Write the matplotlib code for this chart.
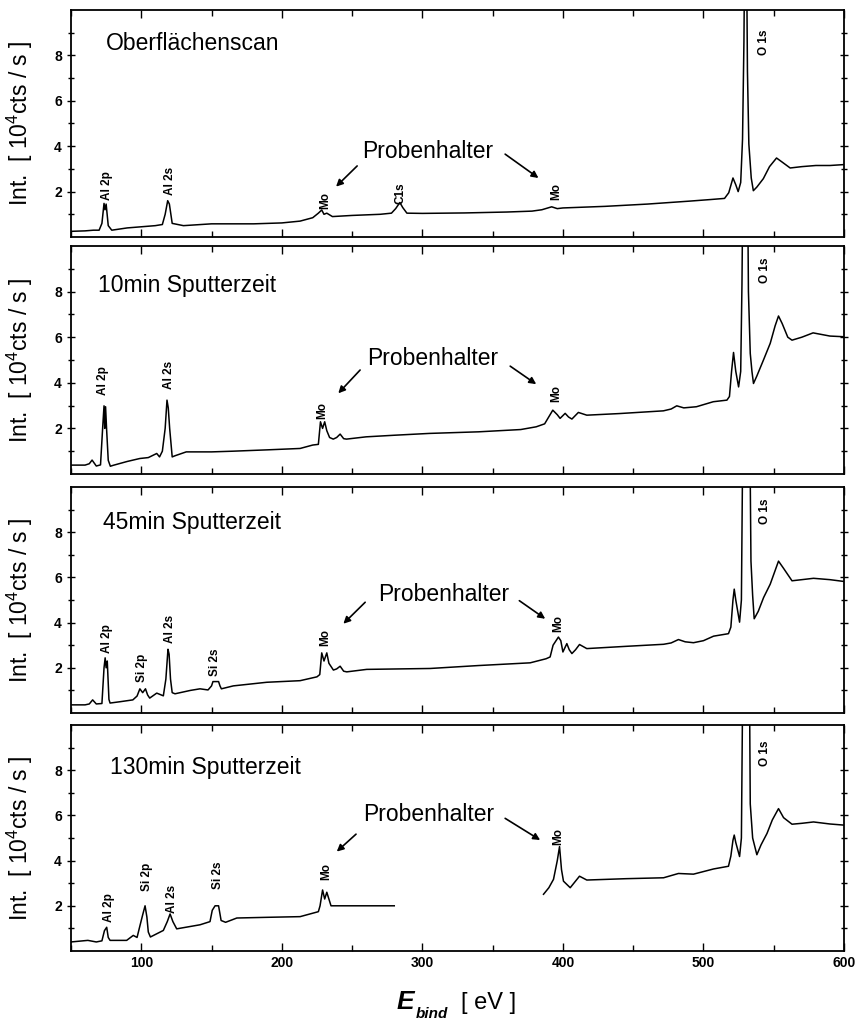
import numpy as np
import matplotlib
matplotlib.use('Agg')
from matplotlib import pyplot as plt
from matplotlib.ticker import MultipleLocator

plt.rcParams['font.family'] = ['Liberation Sans', 'DejaVu Sans']
plt.rcParams['mathtext.fontset'] = 'custom'
plt.rcParams['mathtext.rm'] = 'Liberation Sans'
plt.rcParams['mathtext.it'] = 'Liberation Sans:italic'
plt.rcParams['mathtext.bf'] = 'Liberation Sans:bold'

# XPS Übersichtsspektren, Bindungsenergie in eV, Intensität in 10^4 cts/s
titles = ['Oberflächenscan', '10min Sputterzeit', '45min Sputterzeit', '130min Sputterzeit']

e_surface = [50, 60, 66, 70, 72, 73.5, 74.2, 75, 76.5, 79,
             90, 100, 110, 115, 117, 118.8, 120, 122, 130, 150,
             180, 200, 213, 222, 226, 228.4, 230, 232, 236, 250,
             270, 278, 281, 284, 286, 289, 300, 330, 360, 378,
             385, 392, 396, 400, 430, 460, 490, 505, 515, 518,
             521, 523, 524.7, 526.5, 527.8, 528.8, 529.5, 530.5, 531.3, 532.3,
             534, 535.5, 538, 542.6, 547, 552, 556, 561.7, 570, 580,
             590, 600]
i_surface = [0.25, 0.27, 0.3, 0.3, 0.6, 1.48, 1.2, 1.45, 0.5, 0.3,
             0.4, 0.45, 0.5, 0.55, 1.0, 1.6, 1.45, 0.6, 0.5, 0.58,
             0.58, 0.62, 0.7, 0.85, 1.05, 1.19, 1.0, 1.05, 0.9, 0.95,
             1.0, 1.05, 1.25, 1.52, 1.3, 1.05, 1.04, 1.06, 1.1, 1.14,
             1.2, 1.33, 1.25, 1.28, 1.35, 1.45, 1.58, 1.65, 1.7, 1.95,
             2.6, 2.3, 2.0, 2.4, 4.3, 8.6, 14, 14, 7.3, 4.1,
             2.6, 2.04, 2.2, 2.57, 3.1, 3.48, 3.3, 3.04, 3.1, 3.15,
             3.15, 3.19]

e_10min = [50, 60, 63, 65, 68, 71, 72.5, 73.5, 74, 74.6,
           75.3, 76.5, 78, 80, 90, 99, 105, 111, 113, 115,
           117, 118.3, 119.2, 120.2, 122, 124, 132, 150, 165, 190,
           213, 222, 226, 227.5, 229, 230.5, 232, 234, 236.6, 239,
           241.5, 244, 246, 260, 280, 305, 340, 370, 381, 387,
           392.8, 396, 398, 401.6, 404, 406.4, 411, 417, 440, 471.5,
           477, 481, 486, 495, 507, 516.7, 518.5, 520, 521.4, 523,
           525, 526.5, 527.4, 528.5, 531, 532, 533.3, 534.5, 535.6, 538,
           542.7, 547.5, 551, 553.4, 556, 560, 563, 570, 578, 590,
           600]
i_10min = [0.39, 0.39, 0.45, 0.61, 0.35, 0.4, 2.0, 2.99, 2.0, 2.95,
           2.0, 0.6, 0.34, 0.38, 0.55, 0.68, 0.72, 0.9, 0.75, 1.0,
           2.0, 3.24, 2.9, 2.0, 0.75, 0.8, 0.97, 0.97, 1.0, 1.06,
           1.12, 1.27, 1.3, 2.29, 2.0, 2.29, 1.9, 1.6, 1.53, 1.6,
           1.75, 1.55, 1.53, 1.63, 1.7, 1.78, 1.85, 1.95, 2.07, 2.2,
           2.8, 2.6, 2.44, 2.66, 2.5, 2.41, 2.7, 2.58, 2.65, 2.77,
           2.85, 2.99, 2.9, 2.95, 3.17, 3.24, 3.4, 4.5, 5.33, 4.5,
           3.82, 4.5, 8.3, 16, 16, 8, 5.29, 4.5, 3.97, 4.3,
           5.0, 5.73, 6.5, 6.93, 6.6, 6.0, 5.87, 6.0, 6.19, 6.05,
           6.02]

e_45min = [50, 60, 63, 65.4, 68, 72, 73.5, 74.3, 75, 75.8,
           77, 77.8, 85, 94, 97, 99, 101, 103, 104.5, 106,
           111, 115.7, 117.5, 119, 119.8, 120.8, 122, 124, 135, 141.8,
           147.5, 150, 151, 155, 156, 157, 165.5, 189.3, 213, 225,
           227, 228.4, 230, 232, 233.5, 236.7, 239, 241.5, 244, 246.2,
           260.4, 305.5, 340, 376.7, 388, 390.9, 393, 396.8, 398.5, 400,
           402.8, 404.5, 406.4, 409, 411.8, 417, 445, 471.6, 477, 482.2,
           487, 492.9, 500, 507.2, 517.8, 519.5, 521, 521.9, 523, 525.7,
           527, 528.5, 532.5, 533.8, 535, 536.1, 539, 542.8, 547.5, 553.4,
           557, 563, 570, 578.3, 590, 600]
i_45min = [0.36, 0.36, 0.4, 0.58, 0.4, 0.42, 2.0, 2.44, 2.0, 2.3,
           0.6, 0.44, 0.5, 0.58, 0.75, 1.07, 0.9, 1.07, 0.8, 0.66,
           0.88, 0.76, 1.5, 2.82, 2.6, 1.5, 0.9, 0.85, 1.0, 1.07,
           1.02, 1.2, 1.39, 1.39, 1.2, 1.07, 1.2, 1.36, 1.43, 1.6,
           1.7, 2.66, 2.3, 2.66, 2.2, 1.9, 1.95, 2.07, 1.85, 1.82,
           1.93, 1.97, 2.1, 2.22, 2.4, 2.48, 3.0, 3.36, 3.2, 2.7,
           3.07, 2.8, 2.63, 2.8, 3.03, 2.85, 2.95, 3.04, 3.1, 3.25,
           3.15, 3.11, 3.2, 3.4, 3.51, 3.8, 5.0, 5.48, 5.0, 4.02,
           5.0, 16, 16, 6.72, 5.2, 4.17, 4.5, 5.11, 5.7, 6.72,
           6.4, 5.85, 5.9, 5.96, 5.9, 5.82]

# 280-386 eV fehlt in dieser Messung
e_130min = [50, 62, 68, 72, 73.8, 75.4, 76.5, 77.8, 89.6, 94.3,
            97, 99.1, 101, 102.7, 104, 105, 106.5, 115.7, 118.5, 120.5,
            122.5, 125.2, 141.8, 148.9, 150.5, 152.5, 155, 156.8, 160, 168,
            189.3, 213, 226, 227.2, 229, 230.5, 232, 235, 250, 265,
            280, 330, 386.2, 390, 393.3, 396, 397.6, 399, 400.4, 405.2,
            411.8, 417, 445, 471.6, 482.2, 492.9, 507.2, 517.8, 519.5, 521,
            521.9, 523, 525.7, 527, 528.5, 532.3, 533.3, 535, 538, 541,
            545.2, 549, 553.4, 557, 563, 570, 578.3, 590, 600]
i_130min = [0.4, 0.47, 0.4, 0.45, 0.9, 1.05, 0.6, 0.47, 0.47, 0.69,
            0.6, 1.13, 1.6, 2.0, 1.5, 0.84, 0.62, 0.91, 1.3, 1.64,
            1.3, 0.98, 1.16, 1.3, 1.8, 2.0, 2.0, 1.35, 1.27, 1.46,
            1.49, 1.52, 1.74, 2.0, 2.7, 2.3, 2.6, 2.0, 2.0, 2.0,
            2.0, np.nan, 2.51, 2.8, 3.17, 4.0, 4.62, 3.6, 3.09, 2.8,
            3.31, 3.14, 3.2, 3.24, 3.43, 3.4, 3.63, 3.75, 4.2, 4.9,
            5.13, 4.8, 4.18, 5.0, 16, 16, 6.51, 5.0, 4.26, 4.7,
            5.2, 5.8, 6.3, 5.9, 5.61, 5.65, 5.71, 5.62, 5.57]

spectra = [(e_surface, i_surface), (e_10min, i_10min),
           (e_45min, i_45min), (e_130min, i_130min)]

# Peakzuordnung: (Name, Energie, Höhe der Beschriftung)
peaks = [
    [('Al 2p', 75.5, 2.26), ('Al 2s', 120.5, 2.48), ('Mo', 230.8, 1.62),
     ('C1s', 284.2, 1.91), ('Mo', 395, 2.0), ('O 1s', 542.8, 8.57)],
    [('Al 2p', 73, 4.08), ('Al 2s', 119.8, 4.34), ('Mo', 228.9, 2.8),
     ('Mo', 395.2, 3.54), ('O 1s', 544, 8.94)],
    [('Al 2p', 75.8, 3.29), ('Si 2p', 100.3, 2.0), ('Al 2s', 120.5, 3.73),
     ('Si 2s', 152.5, 2.26), ('Mo', 230.8, 3.32), ('Mo', 396.8, 3.95),
     ('O 1s', 544, 8.92)],
    [('Al 2p', 77, 1.9), ('Si 2p', 103.9, 3.27), ('Al 2s', 121.7, 2.3),
     ('Si 2s', 154.8, 3.34), ('Mo', 231.3, 3.53), ('Mo', 396.8, 5.06),
     ('O 1s', 544, 8.77)],
]

title_pos = [(74.9, 8.25), (69.4, 7.99), (73, 8.16), (77.8, 7.83)]
holder_pos = [(257, 3.47), (260.4, 4.78), (268.7, 4.97), (258, 5.76)]
holder_arrows = [
    [((253.6, 3.13), (238.6, 2.22)), ((358.9, 3.65), (382.6, 2.6))],
    [((255.7, 4.56), (240.2, 3.54)), ((362.5, 4.73), (381, 3.94))],
    [((259.3, 4.9), (243.8, 3.95)), ((369, 4.97), (387.4, 4.17))],
    [((252.8, 5.17), (239.1, 4.4)), ((358.9, 5.87), (383.8, 4.91))],
]

# Achsenpositionen in Pixeln (oben, unten) bei 855x1023
panel_px = [(10, 237), (246, 474), (487, 713), (725, 951)]
W, H = 855, 1023
left_px, right_px = 71, 844


def style_axes(ax, last):
    ax.set_xlim(50, 600)
    ax.set_ylim(0, 10)
    ax.set_xticks([100, 200, 300, 400, 500, 600])
    ax.xaxis.set_minor_locator(MultipleLocator(50))
    ax.set_yticks([2, 4, 6, 8])
    ax.set_yticks([1, 3, 5, 7, 9], minor=True)
    ax.tick_params(which='both', direction='in', top=True, right=True, width=1.0)
    ax.tick_params(axis='y', which='both', direction='inout')
    ax.tick_params(axis='y', which='both', right=True)
    ax.tick_params(which='major', length=6)
    ax.tick_params(which='minor', length=4)
    for sp in ax.spines.values():
        sp.set_linewidth(1.3)
    for lab in ax.get_yticklabels():
        lab.set_fontweight('bold')
        lab.set_fontsize(10)
    if last:
        for lab in ax.get_xticklabels():
            lab.set_fontweight('bold')
            lab.set_fontsize(10)
    else:
        ax.set_xticklabels([])
    ax.set_ylabel('Int.  [ 10$^4$cts / s ]', fontsize=16.5)
    ax.yaxis.set_label_coords(-0.046, 0.5)


fig = plt.figure(figsize=(W / 100, H / 100), dpi=100)

for k, (top, bottom) in enumerate(panel_px):
    ax = fig.add_axes([left_px / W, 1 - bottom / H,
                       (right_px - left_px) / W, (bottom - top) / H])
    energy, counts = spectra[k]
    ax.plot(energy, counts, color='black', lw=1.1)
    style_axes(ax, k == len(panel_px) - 1)

    tx, ty = title_pos[k]
    ax.text(tx, ty, titles[k], fontsize=16.5, ha='left', va='baseline')

    hx, hy = holder_pos[k]
    ax.text(hx, hy, 'Probenhalter', fontsize=16.5, ha='left', va='baseline')
    for tail, head in holder_arrows[k]:
        ax.annotate('', xy=head, xytext=tail,
                    arrowprops=dict(arrowstyle='-|>', color='black', lw=1.2,
                                    mutation_scale=10, shrinkA=0, shrinkB=0))

    for name, x, y in peaks[k]:
        ax.text(x, y, name, rotation=90, fontsize=8.5, fontweight='bold',
                ha='center', va='center')

fig.text(397 / W, 1 - 1009 / H, 'E', fontsize=19, fontweight='bold',
         style='italic', ha='left', va='baseline')
fig.text(416 / W, 1 - 1018 / H, 'bind', fontsize=11, fontweight='bold',
         style='italic', ha='left', va='baseline')
fig.text(461 / W, 1 - 1009 / H, '[ eV ]', fontsize=17, ha='left', va='baseline')

fig.savefig('out.png', dpi=100)
